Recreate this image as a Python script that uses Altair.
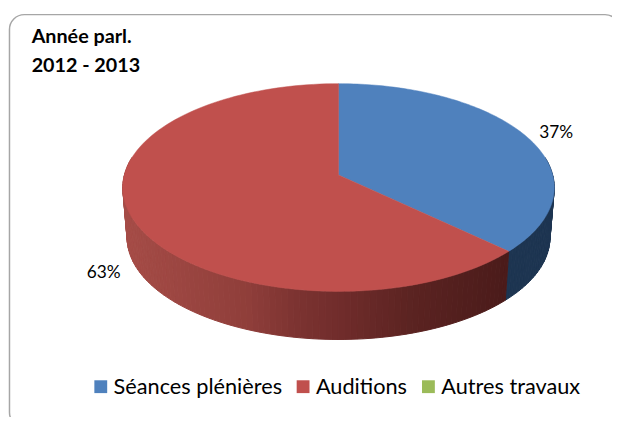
import math
import altair as alt
import pandas as pd

# ---- values ----
categories = ["Séances plénières", "Auditions", "Autres travaux"]
shares = [37, 63, 0]
colors = ["#4f81bd", "#c0504d", "#9bbb59"]
title_lines = ["Année parl.", "2012 - 2013"]

W, H = 612, 409
OFF = 8  # page margin: scales below speak in page pixels
CX, CY = 342.9, 174.5
A, B, K = 217.0, 103.7, 0.1207
BOTTOM_CY, BOTTOM_SCALE = 225.6, 0.98
LABEL_RADII, LABEL_DROPS = [1.17, 1.13, 1.13], [3, 50, 50]


def project(theta_deg, r=1.0, cy=CY, scale=1.0):
    t = math.radians(theta_deg)
    u, v = r * math.sin(t), r * math.cos(t)
    w = 1 + K * v
    return CX + scale * A * u / w, cy - scale * B * v / w


def steps(a, b, n):
    return [a + (b - a) * i / n for i in range(n + 1)]


def mix(stops, x):
    for (x0, c0), (x1, c1) in zip(stops, stops[1:]):
        if x <= x1:
            f = max(0.0, (x - x0) / (x1 - x0))
            ch = [
                round(int(c0[i:i + 2], 16) * (1 - f) + int(c1[i:i + 2], 16) * f)
                for i in (1, 3, 5)
            ]
            return "#%02x%02x%02x" % tuple(ch)
    return stops[-1][1]


RED_WALL = [(123, "#a64c47"), (250, "#8f3e3a"), (300, "#7c3331"),
            (345, "#702c2b"), (420, "#5a2321"), (512, "#4b1b1a"), (560, "#4b1b1a")]
BLUE_WALL = [(0, "#1d3551"), (700, "#1d3551")]

# slices accumulate clockwise from 12 o'clock
bounds = [0.0]
for s in shares:
    bounds.append(bounds[-1] + s / sum(shares) * 360)

# side wall
wall_rows = []
sid = 0
for idx, (lo, hi) in enumerate(zip(bounds[:-1], bounds[1:])):
    if hi <= lo:
        continue
    vis_lo, vis_hi = max(lo, 80), min(hi, 280)
    if vis_hi <= vis_lo:
        continue
    n = max(1, int((vis_hi - vis_lo) / 1.5))
    ts = steps(vis_lo, vis_hi, n)
    for t0, t1 in zip(ts[:-1], ts[1:]):
        x_mid = project((t0 + t1) / 2)[0]
        fill = mix(RED_WALL if idx == 1 else BLUE_WALL, x_mid)
        pts = [project(t0), project(t1),
               project(t1, cy=BOTTOM_CY, scale=BOTTOM_SCALE),
               project(t0, cy=BOTTOM_CY, scale=BOTTOM_SCALE)]
        for k, (x, y) in enumerate(pts):
            wall_rows.append({"x": x, "y": y, "o": k, "sid": sid, "fill": fill})
        sid += 1
wall = pd.DataFrame(wall_rows)

# top face
top_rows = []
for idx, (lo, hi) in enumerate(zip(bounds[:-1], bounds[1:])):
    if hi <= lo:
        continue
    top_rows.append({"x": CX, "y": CY, "o": 0, "cat": categories[idx]})
    for k, t in enumerate(steps(lo, hi, 120)):
        x, y = project(t)
        top_rows.append({"x": x, "y": y, "o": k + 1, "cat": categories[idx]})
top = pd.DataFrame(top_rows)

# percent labels
label_rows = []
for idx, (lo, hi) in enumerate(zip(bounds[:-1], bounds[1:])):
    if hi <= lo:
        continue
    mid = (lo + hi) / 2
    x, y = project(mid, r=LABEL_RADII[idx])
    label_rows.append({"x": x, "y": y + LABEL_DROPS[idx], "label": f"{shares[idx]}%"})
labels = pd.DataFrame(label_rows)

xs = alt.Scale(domain=[OFF, OFF + W], range=[0, W], nice=False, zero=False)
ys = alt.Scale(domain=[OFF, OFF + H], range=[0, H], nice=False, zero=False)
X = alt.X("x:Q", scale=xs, axis=None)
Y = alt.Y("y:Q", scale=ys, axis=None)

frame = alt.Chart(pd.DataFrame({"a": [0]})).mark_rect(
    fill="white", stroke="#a6a6a6", strokeWidth=1.5, cornerRadius=15
).encode(
    x=alt.value(1.5), x2=alt.value(620), y=alt.value(4), y2=alt.value(422)
)

wall_layer = alt.Chart(wall).mark_line(strokeWidth=1, interpolate="linear-closed").encode(
    x=X, y=Y, order="o:Q", detail="sid:N",
    fill=alt.Fill("fill:N", scale=None),
    stroke=alt.Stroke("fill:N", scale=None),
)

top_layer = alt.Chart(top).mark_line(strokeWidth=0.5, interpolate="linear-closed").encode(
    x=X, y=Y, order="o:Q",
    fill=alt.Fill(
        "cat:N",
        scale=alt.Scale(domain=categories, range=colors),
        legend=alt.Legend(
            title=None, orient="none", legendX=83, legendY=370,
            direction="horizontal", symbolType="square", symbolSize=169,
            symbolStrokeWidth=0, labelFont="Lato", labelFontSize=22,
            labelColor="#000000", columnPadding=10, labelOffset=2, labelLimit=300,
        ),
    ),
    stroke=alt.Stroke("cat:N", scale=alt.Scale(domain=categories, range=colors), legend=None),
)

label_layer = alt.Chart(labels).mark_text(
    font="Lato", fontSize=17.5, color="#000000"
).encode(x=X, y=Y, text="label:N")

title_layer = alt.Chart(pd.DataFrame({"t": title_lines, "i": [0, 1]})).mark_text(
    font="Lato", fontSize=20, fontWeight="bold", color="#000000", align="left",
    baseline="alphabetic",
).encode(
    x=alt.value(24),
    y=alt.Y("i:Q", axis=None, scale=alt.Scale(domain=[0, 1], range=[33, 62], nice=False, zero=False)),
    text="t:N",
)

chart = alt.layer(frame, wall_layer, top_layer, label_layer, title_layer).resolve_scale(
    y="independent"
).properties(
    width=W, height=H, padding=0, background="white",
    autosize=alt.AutoSizeParams(type="none"),
).configure_view(stroke=None)

chart.save("out.html", embed_options={"renderer": "svg", "actions": False})
